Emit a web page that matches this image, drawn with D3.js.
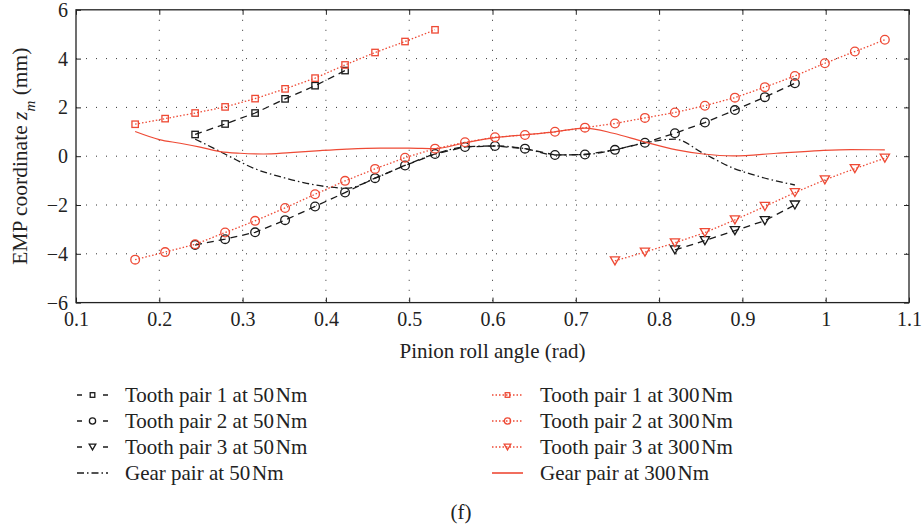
<!DOCTYPE html>
<html>
<head>
<meta charset="utf-8">
<script src="https://cdn.jsdelivr.net/npm/d3@7"></script>
<style>
  body { margin: 0; background: #fff; }
  svg { display: block; font-family: "Liberation Serif", "DejaVu Serif", serif; }
</style>
</head>
<body>
<svg id="chart" width="922" height="527"></svg>
<script>
"use strict";

// axis ticks
const X_TICKS = [0.1, 0.2, 0.3, 0.4, 0.5, 0.6, 0.7, 0.8, 0.9, 1, 1.1];
const Y_TICKS = [-6, -4, -2, 0, 2, 4, 6];

// tooth pair 1
const tp1_50_x = [0.243, 0.279, 0.315, 0.351, 0.387, 0.423];
const tp1_50_y = [0.89, 1.32, 1.77, 2.35, 2.89, 3.51];
const tp1_300_x = [0.171, 0.207, 0.243, 0.279, 0.315, 0.351, 0.387, 0.423, 0.459, 0.495, 0.531];
const tp1_300_y = [1.31, 1.54, 1.77, 2.02, 2.36, 2.76, 3.20, 3.74, 4.25, 4.70, 5.18];

// tooth pair 2
const tp2_50_x = [0.243, 0.279, 0.315, 0.351, 0.387, 0.423, 0.459, 0.495, 0.531, 0.567, 0.603,
                  0.639, 0.675, 0.711, 0.747, 0.783, 0.819, 0.855, 0.891, 0.927, 0.963];
const tp2_50_y = [-3.64, -3.40, -3.12, -2.62, -2.06, -1.49, -0.90, -0.38, 0.09, 0.38, 0.42,
                  0.31, 0.05, 0.07, 0.26, 0.55, 0.94, 1.38, 1.89, 2.42, 2.99];
const tp2_300_x = [0.171, 0.207, 0.243, 0.279, 0.315, 0.351, 0.387, 0.423, 0.459, 0.495, 0.531, 0.567, 0.603,
                   0.639, 0.675, 0.711, 0.747, 0.783, 0.819, 0.855, 0.891, 0.927, 0.963, 0.999, 1.035, 1.071];
const tp2_300_y = [-4.24, -3.93, -3.61, -3.13, -2.65, -2.12, -1.56, -1.01, -0.52, -0.06, 0.31, 0.57, 0.78,
                   0.87, 1.00, 1.17, 1.34, 1.57, 1.79, 2.07, 2.40, 2.83, 3.29, 3.81, 4.29, 4.77];

// tooth pair 3
const tp3_50_x = [0.819, 0.855, 0.891, 0.927, 0.963];
const tp3_50_y = [-3.84, -3.46, -3.05, -2.64, -2.00];
const tp3_300_x = [0.747, 0.783, 0.819, 0.855, 0.891, 0.927, 0.963, 0.999, 1.035, 1.071];
const tp3_300_y = [-4.29, -3.93, -3.55, -3.13, -2.61, -2.06, -1.49, -0.97, -0.51, -0.08];

// gear pair (whole mesh)
const gear_50_x = [0.243, 0.265, 0.285, 0.313, 0.345, 0.377, 0.401, 0.425, 0.459, 0.495, 0.531,
                   0.567, 0.603, 0.639, 0.675, 0.711, 0.747, 0.783, 0.819, 0.853, 0.889, 0.921, 0.963];
const gear_50_y = [0.70, 0.33, -0.02, -0.49, -0.84, -1.11, -1.25, -1.31, -0.90, -0.38, 0.09,
                   0.38, 0.42, 0.31, 0.05, 0.07, 0.26, 0.55, 0.70, 0.12, -0.49, -0.84, -1.18];
const gear_300_x = [0.171, 0.200, 0.225, 0.249, 0.273, 0.297, 0.325, 0.357, 0.393, 0.425, 0.465, 0.500, 0.531,
                    0.567, 0.603, 0.639, 0.675, 0.711, 0.745, 0.781, 0.821, 0.853, 0.889, 0.941, 0.993, 1.030, 1.071];
const gear_300_y = [1.01, 0.68, 0.53, 0.37, 0.19, 0.12, 0.09, 0.15, 0.23, 0.29, 0.33, 0.33, 0.31,
                    0.55, 0.76, 0.88, 1.00, 1.15, 0.94, 0.60, 0.26, 0.09, 0.01, 0.12, 0.23, 0.27, 0.26];

const BLACK = "#1a1a1a";
const RED = "#ee4a35";

const series = [
    { name: "Tooth pair 1 at 50\u200ANm", xs: tp1_50_x, ys: tp1_50_y, color: BLACK, dash: "7,5", marker: "square", curve: "linear", col: 0 },
    { name: "Tooth pair 2 at 50\u200ANm", xs: tp2_50_x, ys: tp2_50_y, color: BLACK, dash: "7,5", marker: "circle", curve: "linear", col: 0 },
    { name: "Tooth pair 3 at 50\u200ANm", xs: tp3_50_x, ys: tp3_50_y, color: BLACK, dash: "7,5", marker: "triangle", curve: "linear", col: 0 },
    { name: "Gear pair at 50\u200ANm", xs: gear_50_x, ys: gear_50_y, color: BLACK, dash: "7,3,1.5,3", marker: null, curve: "smooth", col: 0 },
    { name: "Tooth pair 1 at 300\u200ANm", xs: tp1_300_x, ys: tp1_300_y, color: RED, dash: "1.5,2", marker: "square", curve: "linear", col: 1 },
    { name: "Tooth pair 2 at 300\u200ANm", xs: tp2_300_x, ys: tp2_300_y, color: RED, dash: "1.5,2", marker: "circle", curve: "linear", col: 1 },
    { name: "Tooth pair 3 at 300\u200ANm", xs: tp3_300_x, ys: tp3_300_y, color: RED, dash: "1.5,2", marker: "triangle", curve: "linear", col: 1 },
    { name: "Gear pair at 300\u200ANm", xs: gear_300_x, ys: gear_300_y, color: RED, dash: null, marker: null, curve: "smooth", col: 1 }
];

const plotLeft = 76, plotRight = 909, plotTop = 9.8, plotBottom = 302.6;
var xScale, yScale;

window.addEventListener("load", init);

function drawMarker(g, type, x, y, size, color) {
    if (type == "square") {
        g.append("rect")
            .attr("x", x - size / 2).attr("y", y - size / 2)
            .attr("width", size).attr("height", size);
    } else if (type == "circle") {
        g.append("circle").attr("cx", x).attr("cy", y).attr("r", size * 0.68);
    } else if (type == "triangle") {
        let w = size * 1.45, h = size * 1.25;
        g.append("path")
            .attr("d", `M${x - w / 2},${y - h / 2}L${x + w / 2},${y - h / 2}L${x},${y + h / 2}Z`);
    }
    g.selectAll("*")
        .attr("fill", "none")
        .attr("stroke", color)
        .attr("stroke-width", 1.3);
}

function init() {
    xScale = d3.scaleLinear().domain([0.1, 1.1]).range([plotLeft, plotRight]);
    yScale = d3.scaleLinear().domain([-6, 6]).range([plotBottom, plotTop]);
    const svg = d3.select("#chart");
    const fmt = d3.format("~g");

    // dotted grid
    const grid = svg.append("g").attr("stroke", "#333").attr("stroke-width", 1).attr("stroke-dasharray", "1,9");
    X_TICKS.slice(1, -1).forEach(function(t) {
        grid.append("line").attr("x1", xScale(t)).attr("x2", xScale(t)).attr("y1", plotTop).attr("y2", plotBottom);
    });
    Y_TICKS.slice(1, -1).forEach(function(t) {
        grid.append("line").attr("x1", plotLeft).attr("x2", plotRight).attr("y1", yScale(t)).attr("y2", yScale(t));
    });

    // axes with inward ticks on all four sides
    const axes = [
        { ax: d3.axisBottom(xScale).tickValues(X_TICKS).tickFormat(fmt).tickPadding(9), tr: `translate(0,${plotBottom})` },
        { ax: d3.axisTop(xScale).tickValues(X_TICKS).tickFormat(""), tr: `translate(0,${plotTop})` },
        { ax: d3.axisLeft(yScale).tickValues(Y_TICKS).tickFormat(fmt).tickPadding(8), tr: `translate(${plotLeft},0)` },
        { ax: d3.axisRight(yScale).tickValues(Y_TICKS).tickFormat(""), tr: `translate(${plotRight},0)` }
    ];
    axes.forEach(function(a) {
        let g = svg.append("g").attr("transform", a.tr)
            .call(a.ax.tickSizeInner(-5).tickSizeOuter(0));
        g.select(".domain").remove();
        g.selectAll("line").attr("stroke", "#222");
        g.selectAll("text")
            .attr("font-family", "Liberation Serif")
            .attr("font-size", 20)
            .attr("fill", "#222");
    });

    svg.append("rect")
        .attr("x", plotLeft).attr("y", plotTop)
        .attr("width", plotRight - plotLeft).attr("height", plotBottom - plotTop)
        .attr("fill", "none").attr("stroke", "#222").attr("stroke-width", 1.3);

    // series
    series.forEach(function(s) {
        let pts = s.xs.map((x, i) => [x, s.ys[i]]);
        let line = d3.line()
            .x(d => xScale(d[0]))
            .y(d => yScale(d[1]))
            .curve(s.curve == "smooth" ? d3.curveMonotoneX : d3.curveLinear);
        svg.append("path")
            .attr("d", line(pts))
            .attr("fill", "none")
            .attr("stroke", s.color)
            .attr("stroke-width", s.dash ? 1.3 : 1.2)
            .attr("stroke-dasharray", s.dash);
        if (s.marker) {
            let mg = svg.append("g");
            pts.forEach(function(d) {
                drawMarker(mg.append("g"), s.marker, xScale(d[0]), yScale(d[1]), 6.4, s.color);
            });
        }
    });

    // axis titles
    svg.append("text")
        .attr("x", (plotLeft + plotRight) / 2).attr("y", 358)
        .attr("text-anchor", "middle").attr("font-size", 21).attr("fill", "#222")
        .text("Pinion roll angle (rad)");
    let yl = svg.append("text")
        .attr("transform", `translate(27,${(plotTop + plotBottom) / 2}) rotate(-90)`)
        .attr("text-anchor", "middle").attr("font-size", 21.5).attr("fill", "#222");
    yl.append("tspan").text("EMP coordinate ");
    yl.append("tspan").attr("font-style", "italic").text("z");
    yl.append("tspan").attr("font-style", "italic").attr("font-size", 15).attr("baseline-shift", "sub").text("m");
    yl.append("tspan").text(" (mm)");

    // legend, two columns
    const colX = [76, 491];
    const rowY = [395, 421, 447, 473];
    let counts = [0, 0];
    series.forEach(function(s) {
        let x0 = colX[s.col], y0 = rowY[counts[s.col]++];
        let lg = svg.append("g");
        let dash = s.marker ? (s.col == 0 ? "5,21" : "1.5,2") : s.dash;
        lg.append("line")
            .attr("x1", x0 + 1).attr("x2", x0 + 32).attr("y1", y0).attr("y2", y0)
            .attr("stroke", s.color).attr("stroke-width", s.dash ? 1.3 : 1.6)
            .attr("stroke-dasharray", dash);
        if (s.marker) {
            drawMarker(lg.append("g"), s.marker, x0 + 16.5, y0, 4.6, s.color);
        }
        lg.append("text")
            .attr("x", x0 + 49).attr("y", y0).attr("dy", "0.35em")
            .attr("font-size", 21).attr("fill", "#222")
            .text(s.name);
    });

    svg.append("text")
        .attr("x", 461).attr("y", 519)
        .attr("text-anchor", "middle").attr("font-size", 21).attr("fill", "#222")
        .text("(f)");
}
</script>
</body>
</html>
